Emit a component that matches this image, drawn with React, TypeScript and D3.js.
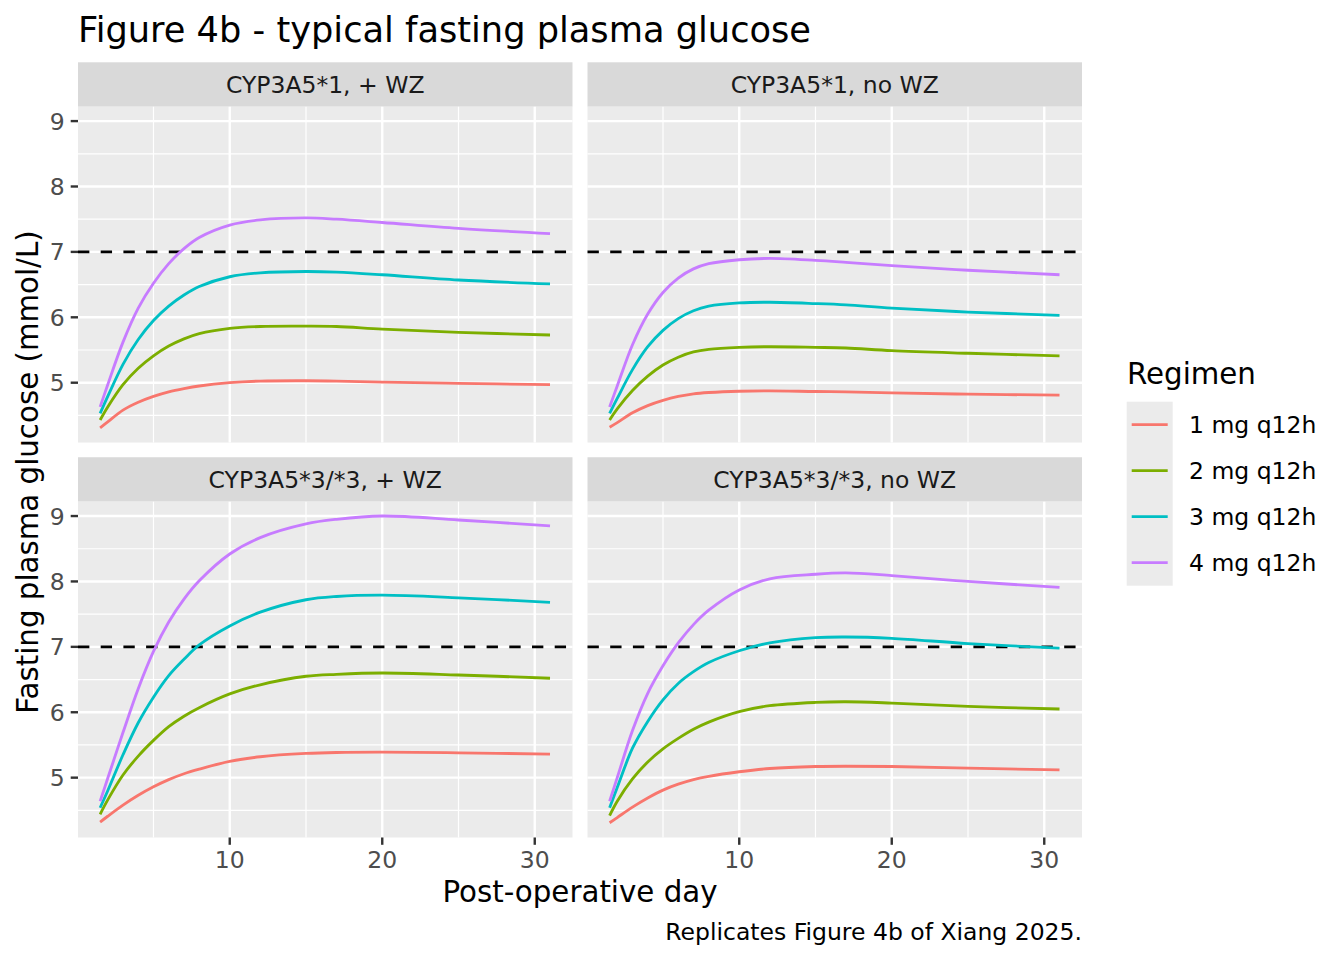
import React from "react";
import * as d3 from "d3";

// ---------------- data ----------------
const days = [1.5, 2, 3, 4, 5, 6, 7, 8, 10, 12, 15, 17, 20, 25, 31];
const regimens = ["1 mg q12h", "2 mg q12h", "3 mg q12h", "4 mg q12h"];
const regimenColors = ["#F8766D", "#7CAE00", "#00BFC4", "#C77CFF"];
const panelTitles = ["CYP3A5*1, + WZ", "CYP3A5*1, no WZ", "CYP3A5*3/*3, + WZ", "CYP3A5*3/*3, no WZ"];
const xTickValues = [10, 20, 30];
const xMinorValues = [5, 15, 25];
const yTickValues = [5, 6, 7, 8, 9];
const yMinorValues = [4.5, 5.5, 6.5, 7.5, 8.5];
const targetGlucose = 7;

// CYP3A5*1, + WZ
const fpgStar1WZ = [
  [4.31, 4.4, 4.58, 4.7, 4.79, 4.86, 4.91, 4.95, 5.0, 5.025, 5.03, 5.025, 5.01, 4.99, 4.97],
  [4.43, 4.63, 4.97, 5.22, 5.41, 5.56, 5.67, 5.75, 5.83, 5.86, 5.865, 5.86, 5.82, 5.77, 5.73],
  [4.53, 4.79, 5.28, 5.66, 5.95, 6.17, 6.34, 6.47, 6.62, 6.68, 6.7, 6.69, 6.65, 6.57, 6.51],
  [4.63, 4.97, 5.62, 6.14, 6.52, 6.82, 7.05, 7.22, 7.41, 7.49, 7.52, 7.5, 7.45, 7.36, 7.28],
];
// CYP3A5*1, no WZ
const fpgStar1NoWZ = [
  [4.32, 4.39, 4.54, 4.65, 4.73, 4.79, 4.83, 4.85, 4.87, 4.875, 4.865, 4.86, 4.845, 4.825, 4.81],
  [4.43, 4.6, 4.88, 5.1, 5.27, 5.39, 5.47, 5.51, 5.54, 5.55, 5.54, 5.53, 5.49, 5.45, 5.41],
  [4.53, 4.76, 5.2, 5.55, 5.8, 5.98, 6.1, 6.17, 6.22, 6.23, 6.21, 6.19, 6.14, 6.08, 6.03],
  [4.63, 4.95, 5.58, 6.05, 6.38, 6.6, 6.74, 6.82, 6.88, 6.9, 6.87, 6.84, 6.79, 6.72, 6.65],
];
// CYP3A5*3/*3, + WZ
const fpgStar3WZ = [
  [4.32, 4.41, 4.58, 4.73, 4.86, 4.97, 5.06, 5.13, 5.25, 5.32, 5.37, 5.385, 5.39, 5.38, 5.36],
  [4.44, 4.66, 5.04, 5.33, 5.57, 5.78, 5.94, 6.07, 6.28, 6.42, 6.55, 6.58, 6.6, 6.57, 6.52],
  [4.54, 4.8, 5.35, 5.84, 6.23, 6.56, 6.81, 7.03, 7.32, 7.53, 7.72, 7.77, 7.79, 7.75, 7.68],
  [4.64, 4.99, 5.69, 6.36, 6.93, 7.38, 7.73, 8.01, 8.42, 8.67, 8.88, 8.95, 9.0, 8.94, 8.85],
];
// CYP3A5*3/*3, no WZ
const fpgStar3NoWZ = [
  [4.31, 4.39, 4.55, 4.69, 4.81, 4.9, 4.97, 5.02, 5.09, 5.14, 5.17, 5.175, 5.17, 5.145, 5.12],
  [4.42, 4.64, 4.98, 5.24, 5.44, 5.6, 5.74, 5.85, 6.01, 6.1, 6.15, 6.16, 6.14, 6.09, 6.05],
  [4.54, 4.85, 5.45, 5.86, 6.19, 6.44, 6.62, 6.76, 6.94, 7.06, 7.14, 7.15, 7.13, 7.05, 6.98],
  [4.64, 5.0, 5.72, 6.29, 6.71, 7.06, 7.34, 7.56, 7.87, 8.04, 8.11, 8.13, 8.09, 8.0, 7.91],
];
const panelData = [fpgStar1WZ, fpgStar1NoWZ, fpgStar3WZ, fpgStar3NoWZ];

// ---------------- layout ----------------
const W = 1344;
const H = 960;
const FONT = "DejaVu Sans, Verdana, sans-serif";
const colLeft = [78, 587.5];
const panelW = 494.5;
const stripTop = [62.3, 457.25];
const stripH = 44.4;
const panelH = 335.85;
const majorW = 2.4;
const minorW = 1.2;
const lineW = 2.84;
const tickLen = 7.3;

const xDomain: [number, number] = [0.05, 32.475];
const yDomain: [number, number] = [4.085, 9.22];

function Panel({ idx }: { idx: number }) {
  const col = idx % 2;
  const row = Math.floor(idx / 2);
  const left = colLeft[col];
  const sTop = stripTop[row];
  const pTop = sTop + stripH;
  const x = d3.scaleLinear().domain(xDomain).range([left, left + panelW]);
  const y = d3.scaleLinear().domain(yDomain).range([pTop + panelH, pTop]);
  const line = d3
    .line<[number, number]>()
    .x((d) => x(d[0]))
    .y((d) => y(d[1]))
    .curve(d3.curveCatmullRom.alpha(0.5));
  const series = panelData[idx];
  const bottom = pTop + panelH;
  return (
    <g>
      <rect x={left} y={sTop} width={panelW} height={stripH} fill="#D9D9D9" />
      <text
        x={left + panelW / 2}
        y={sTop + 31}
        textAnchor="middle"
        fontSize={23.5}
        fill="#1A1A1A"
        fontFamily={FONT}
      >
        {panelTitles[idx]}
      </text>
      <rect x={left} y={pTop} width={panelW} height={panelH} fill="#EBEBEB" />
      {yMinorValues.map((v) => (
        <line key={"ym" + v} x1={left} x2={left + panelW} y1={y(v)} y2={y(v)} stroke="#fff" strokeWidth={minorW} />
      ))}
      {xMinorValues.map((v) => (
        <line key={"xm" + v} x1={x(v)} x2={x(v)} y1={pTop} y2={bottom} stroke="#fff" strokeWidth={minorW} />
      ))}
      {yTickValues.map((v) => (
        <line key={"yM" + v} x1={left} x2={left + panelW} y1={y(v)} y2={y(v)} stroke="#fff" strokeWidth={majorW} />
      ))}
      {xTickValues.map((v) => (
        <line key={"xM" + v} x1={x(v)} x2={x(v)} y1={pTop} y2={bottom} stroke="#fff" strokeWidth={majorW} />
      ))}
      <line
        x1={left}
        x2={left + panelW}
        y1={y(targetGlucose)}
        y2={y(targetGlucose)}
        stroke="#000"
        strokeWidth={lineW}
        strokeDasharray="11.35 11.35"
      />
      {series.map((vals, i) => (
        <path
          key={"s" + i}
          d={line(days.map((dd, j) => [dd, vals[j]] as [number, number])) || ""}
          fill="none"
          stroke={regimenColors[i]}
          strokeWidth={lineW}
        />
      ))}
      {col === 0 &&
        yTickValues.map((v) => (
          <g key={"yt" + v}>
            <line x1={left - tickLen} x2={left} y1={y(v)} y2={y(v)} stroke="#333333" strokeWidth={majorW} />
            <text
              x={left - tickLen - 5.9}
              y={y(v) + 8.5}
              textAnchor="end"
              fontSize={23.5}
              fill="#4D4D4D"
              fontFamily={FONT}
            >
              {v}
            </text>
          </g>
        ))}
      {row === 1 &&
        xTickValues.map((v) => (
          <g key={"xt" + v}>
            <line x1={x(v)} x2={x(v)} y1={bottom} y2={bottom + tickLen} stroke="#333333" strokeWidth={majorW} />
            <text
              x={x(v)}
              y={bottom + 30.5}
              textAnchor="middle"
              fontSize={23.5}
              fill="#4D4D4D"
              fontFamily={FONT}
            >
              {v}
            </text>
          </g>
        ))}
    </g>
  );
}

function Legend() {
  const left = 1126.7;
  const top = 401.7;
  const key = 46;
  return (
    <g>
      <text x={1127} y={384.3} fontSize={29.3} fill="#000" fontFamily={FONT}>
        Regimen
      </text>
      <rect x={left} y={top} width={key} height={key * regimens.length} fill="#EBEBEB" />
      {regimens.map((r, i) => {
        const cy = top + key * i + key / 2;
        return (
          <g key={r}>
            <line x1={left + 5} x2={left + key - 5} y1={cy} y2={cy} stroke={regimenColors[i]} strokeWidth={lineW} />
            <text x={1189} y={cy + 8.5} fontSize={23.5} fill="#000" fontFamily={FONT}>
              {r}
            </text>
          </g>
        );
      })}
    </g>
  );
}

export default function App() {
  return (
    <svg
      width={W}
      height={H}
      viewBox={`0 0 ${W} ${H}`}
      style={{ position: "absolute", left: 0, top: 0, background: "#fff" }}
    >
      <rect x={0} y={0} width={W} height={H} fill="#fff" />
      <text x={78} y={42} fontSize={35.2} fill="#000" fontFamily={FONT}>
        Figure 4b - typical fasting plasma glucose
      </text>
      {[0, 1, 2, 3].map((i) => (
        <Panel key={i} idx={i} />
      ))}
      <text x={580} y={902} textAnchor="middle" fontSize={29.3} fill="#000" fontFamily={FONT}>
        Post-operative day
      </text>
      <text
        transform="translate(37.5,472) rotate(-90)"
        textAnchor="middle"
        fontSize={29.3}
        fill="#000"
        fontFamily={FONT}
      >
        Fasting plasma glucose (mmol/L)
      </text>
      <text x={1082} y={940} textAnchor="end" fontSize={23.5} fill="#000" fontFamily={FONT}>
        Replicates Figure 4b of Xiang 2025.
      </text>
      <Legend />
    </svg>
  );
}
